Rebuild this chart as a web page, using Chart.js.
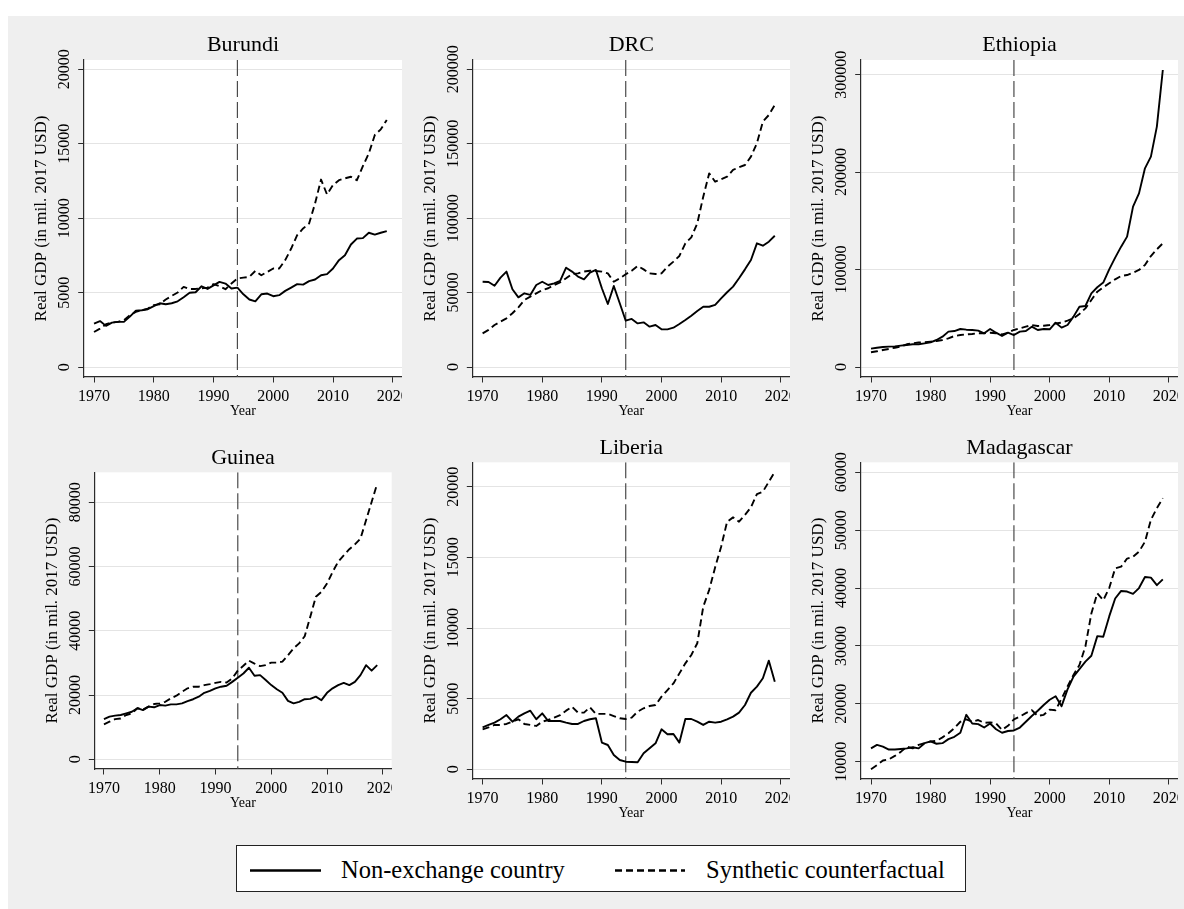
<!DOCTYPE html>
<html>
<head>
<meta charset="utf-8">
<script src="https://cdn.jsdelivr.net/npm/chart.js@4/dist/chart.umd.min.js"></script>
<style>
  html, body { margin: 0; padding: 0; background: #fff; width: 1184px; height: 909px; overflow: hidden; }
  #frame { position: absolute; left: 8px; top: 16px; width: 1176px; height: 893px; background: #efefef; }
  .panel { position: absolute; overflow: hidden; }
  .panel canvas { position: absolute; left: 0; top: 0; }
  #legend { position: absolute; left: 236px; top: 845px; width: 730px; height: 47px; box-sizing: border-box;
            border: 1px solid #222; background: #fff; font-family: 'Liberation Serif', 'Times New Roman', serif; }
  #legend .txt { position: absolute; top: 1px; line-height: 45px; font-size: 24.5px; color: #000; white-space: nowrap; }
  #legend svg { position: absolute; top: 0; }
</style>
</head>
<body>
<div id="frame"></div>
<div id="legend">
  <svg style="left:13px" width="72" height="45"><line x1="0" y1="24.5" x2="71" y2="24.5" stroke="#000" stroke-width="2.6"/></svg>
  <span class="txt" style="left:104px">Non-exchange country</span>
  <svg style="left:378px" width="72" height="45"><line x1="0" y1="24.5" x2="70" y2="24.5" stroke="#000" stroke-width="2.6" stroke-dasharray="7 4"/></svg>
  <span class="txt" style="left:469px">Synthetic counterfactual</span>
</div>
<script>
// Years shared by every panel
const years = [1970, 1971, 1972, 1973, 1974, 1975, 1976, 1977, 1978, 1979,
               1980, 1981, 1982, 1983, 1984, 1985, 1986, 1987, 1988, 1989,
               1990, 1991, 1992, 1993, 1994, 1995, 1996, 1997, 1998, 1999,
               2000, 2001, 2002, 2003, 2004, 2005, 2006, 2007, 2008, 2009,
               2010, 2011, 2012, 2013, 2014, 2015, 2016, 2017, 2018, 2019];
const xTickLabels = [1970, 1980, 1990, 2000, 2010, 2020];
const treatmentYear = 1994;
const seriesNames = ['Non-exchange country', 'Synthetic counterfactual'];

// Real GDP, million 2017 USD
const burundiActual = [2930, 3100, 2780, 3000, 3050, 3050, 3400, 3800, 3830, 3900,
                       4100, 4300, 4230, 4300, 4430, 4700, 5000, 5040, 5440, 5260,
                       5500, 5730, 5620, 5290, 5350, 4900, 4550, 4430, 4900, 4950,
                       4770, 4840, 5130, 5350, 5580, 5550, 5780, 5890, 6180, 6250,
                       6630, 7190, 7520, 8240, 8640, 8670, 9030, 8910, 9030, 9140];
const burundiSynthetic = [2370, 2600, 2890, 3000, 3050, 3160, 3490, 3720, 3830, 3940,
                          4170, 4230, 4550, 4790, 5020, 5400, 5260, 5260, 5300, 5350,
                          5580, 5440, 5240, 5620, 5960, 6020, 6070, 6470, 6180, 6400,
                          6630, 6630, 7190, 7970, 8870, 9320, 9650, 11000, 12600, 11600,
                          12230, 12560, 12680, 12790, 12560, 13500, 14360, 15590, 15970, 16600];

const drcActual = [57300, 57100, 54600, 60000, 64100, 52200, 46800, 49500, 48400, 55100,
                   57300, 55100, 56200, 57800, 66700, 64100, 60700, 58900, 63400, 65200,
                   52900, 42300, 54400, 42800, 31100, 32300, 29300, 30000, 27100, 28200,
                   25300, 25300, 26400, 28900, 31600, 34500, 37600, 40500, 40500, 41700,
                   46100, 50200, 54000, 59600, 65600, 71900, 83100, 81500, 84200, 88200];
const drcSynthetic = [22600, 24900, 28200, 30500, 32700, 36100, 40100, 45000, 47300, 49500,
                      51700, 52900, 55100, 56900, 59600, 62500, 62900, 64100, 64700, 64500,
                      64100, 62900, 57300, 59600, 62300, 64700, 67900, 65600, 62900, 62500,
                      62900, 67400, 70800, 74600, 83100, 87100, 96500, 114400, 130100, 124500,
                      126100, 127900, 132400, 134200, 135700, 141300, 150300, 164800, 169300, 176000];

const ethiopiaActual = [18800, 19800, 20500, 20900, 21200, 21900, 22600, 23300, 23300, 24300,
                        25300, 27700, 31100, 36300, 36900, 39000, 38300, 38000, 37300, 34600,
                        39000, 35200, 31800, 35200, 32800, 36300, 36900, 41400, 38000, 39000,
                        38700, 45500, 40400, 43100, 51700, 61900, 62600, 75600, 81800, 86600,
                        100200, 112200, 123500, 133800, 164600, 178200, 203900, 215900, 246700, 304800];
const ethiopiaSynthetic = [15100, 16100, 17400, 18500, 19800, 20900, 23300, 24300, 25300, 25300,
                           26000, 26700, 27700, 29400, 31800, 32800, 33500, 33900, 34600, 34600,
                           35200, 34600, 33500, 35200, 38000, 39700, 41400, 43100, 42100, 42400,
                           43100, 44800, 45500, 47600, 49900, 54400, 60200, 68800, 77300, 81800,
                           85900, 90000, 93400, 94400, 96800, 99600, 104700, 113900, 120800, 126900];

const guineaActual = [12500, 13300, 13600, 13800, 14300, 14800, 15900, 15300, 16400, 16200,
                      16900, 16700, 17100, 17100, 17400, 18100, 18700, 19500, 20700, 21300,
                      22100, 22600, 22900, 24100, 25400, 26700, 28500, 26000, 26200, 24700,
                      23100, 21800, 20700, 18200, 17400, 17900, 18700, 18800, 19500, 18400,
                      20700, 22100, 23100, 23800, 23100, 24100, 26200, 29300, 27600, 29300];
const guineaSynthetic = [10900, 11700, 12500, 12700, 13800, 14300, 15900, 15500, 16400, 17200,
                         17400, 17900, 19000, 19800, 21000, 22100, 22600, 22600, 23100, 23400,
                         23800, 24100, 23900, 25200, 27600, 29100, 30700, 29800, 29000, 29300,
                         30100, 30100, 30400, 32400, 34500, 36100, 38300, 44400, 50600, 52100,
                         54700, 58300, 61500, 63500, 65400, 66900, 68700, 74400, 80100, 85800];

const liberiaActual = [2970, 3140, 3300, 3540, 3840, 3370, 3730, 3960, 4150, 3540,
                       3960, 3420, 3420, 3420, 3300, 3210, 3210, 3420, 3540, 3610,
                       1890, 1720, 1010, 660, 540, 520, 500, 1130, 1490, 1840,
                       2830, 2480, 2500, 1890, 3560, 3560, 3370, 3140, 3370, 3300,
                       3370, 3540, 3730, 4010, 4550, 5420, 5850, 6440, 7690, 6200];
const liberiaSynthetic = [2830, 2970, 3140, 3140, 3210, 3370, 3540, 3210, 3140, 3070,
                          3370, 3490, 3660, 3840, 4150, 4430, 4010, 4010, 4390, 3920,
                          3920, 3920, 3770, 3610, 3560, 3660, 4080, 4320, 4480, 4550,
                          5140, 5610, 6080, 6790, 7500, 8090, 8920, 11500, 12700, 14300,
                          15750, 17520, 17830, 17520, 18000, 18540, 19480, 19650, 20350, 21060];

const madagascarActual = [12300, 12900, 12600, 12100, 12100, 12200, 12300, 12500, 12300, 13200,
                          13500, 13100, 13200, 13900, 14300, 15000, 18100, 16600, 16500, 15900,
                          16600, 15600, 15000, 15300, 15400, 15900, 16900, 17900, 18800, 19800,
                          20700, 21300, 19600, 22500, 24700, 26000, 27300, 28300, 31700, 31600,
                          35100, 38200, 39500, 39400, 39000, 40000, 41900, 41800, 40500, 41500];
const madagascarSynthetic = [8700, 9400, 10200, 10400, 11000, 11700, 12600, 12300, 12900, 13200,
                             13500, 13600, 14200, 14900, 15800, 16900, 17300, 16900, 17200, 16700,
                             16800, 16600, 15500, 16200, 17300, 17800, 18400, 18900, 17900, 18100,
                             19000, 18900, 20900, 23000, 25000, 26700, 29900, 35600, 39100, 37900,
                             40000, 43400, 43700, 45100, 45400, 46300, 48000, 51800, 53800, 55500];

// y-axis tick labels per panel
const burundiTicks = [0, 5000, 10000, 15000, 20000];
const drcTicks = [0, 50000, 100000, 150000, 200000];
const ethiopiaTicks = [0, 100000, 200000, 300000];
const guineaTicks = [0, 20000, 40000, 60000, 80000];
const liberiaTicks = [0, 5000, 10000, 15000, 20000];
const madagascarTicks = [10000, 20000, 30000, 40000, 50000, 60000];

const FONT = "'Liberation Serif', 'Times New Roman', serif";
const X_MIN = 1968.27, X_MAX = 2021.6;
const AXIS_W = 64, PAD_R = 24, AXIS_H = 52;
const INK = '#2b2b2b';

// Panel boxes (plot area in page pixels) and value ranges
const panels = [
  { name: 'Burundi',    actual: burundiActual,    synth: burundiSynthetic,    ticks: burundiTicks,
    L: 83.7,  T: 60,    R: 402.3,  B: 377, TC: 45.3,  yMin: -651,   yMax: 20624 },
  { name: 'DRC',        actual: drcActual,        synth: drcSynthetic,        ticks: drcTicks,
    L: 472.3, T: 60,    R: 790.3,  B: 377, TC: 45.3,  yMin: -6718,  yMax: 206248 },
  { name: 'Ethiopia',   actual: ethiopiaActual,   synth: ethiopiaSynthetic,   ticks: ethiopiaTicks,
    L: 860.7, T: 60,    R: 1178.3, B: 377, TC: 45.3,  yMin: -10262, yMax: 315055 },
  { name: 'Guinea',     actual: guineaActual,     synth: guineaSynthetic,     ticks: guineaTicks,
    L: 94.3,  T: 472.3, R: 391.7,  B: 769, TC: 458.3, yMin: -3019,  yMax: 89339 },
  { name: 'Liberia',    actual: liberiaActual,    synth: liberiaSynthetic,    ticks: liberiaTicks,
    L: 472.3, T: 462.3, R: 790.3,  B: 779, TC: 448.3, yMin: -686,   yMax: 21727 },
  { name: 'Madagascar', actual: madagascarActual, synth: madagascarSynthetic, ticks: madagascarTicks,
    L: 860.7, T: 462.3, R: 1178.3, B: 779, TC: 448.3, yMin: 7011,   yMax: 61728 }
];

// White plot region behind grid and lines
const plotBackground = {
  id: 'plotBackground',
  beforeDraw(chart) {
    const { ctx, chartArea: a } = chart;
    ctx.save();
    ctx.fillStyle = '#ffffff';
    ctx.fillRect(a.left, a.top, a.right - a.left, a.bottom - a.top);
    ctx.restore();
  }
};

const measureCtx = document.createElement('canvas').getContext('2d');
measureCtx.font = '16px ' + FONT;

function pairs(values) {
  return years.map((yr, i) => ({ x: yr, y: values[i] }));
}

function makePanel(p) {
  const cl = Math.floor(p.L) - AXIS_W;
  const ct = Math.floor(p.TC - 18);
  const cw = Math.ceil(p.R) + PAD_R - cl;
  const ch = Math.ceil(p.B) + AXIS_H - ct;

  const wrap = document.createElement('div');
  wrap.className = 'panel';
  wrap.style.left = cl + 'px';
  wrap.style.top = ct + 'px';
  wrap.style.width = (p.R - cl) + 'px';
  wrap.style.height = ch + 'px';
  const cv = document.createElement('canvas');
  cv.width = cw; cv.height = ch;
  cv.style.width = cw + 'px'; cv.style.height = ch + 'px';
  wrap.appendChild(cv);
  document.body.appendChild(wrap);

  const titleLH = 22 * 1.2;
  const titlePadTop = p.TC - ct - titleLH / 2;
  const titlePadBottom = p.T - ct - titlePadTop - titleLH;
  const xAxisH = ct + ch - p.B;
  const yearLH = 14 * 1.2;
  const yearPadBottom = (ct + ch) - yearLH / 2 - (p.B + 34.5);
  const yTitleLH = 17 * 1.2;
  const yTitlePadTop = AXIS_W - 42 - yTitleLH / 2;
  const widest = Math.max(...p.ticks.map(v => measureCtx.measureText(String(v)).width));
  const yTickPad = 13.5 - widest / 2;

  new Chart(cv, {
    type: 'line',
    data: {
      datasets: [
        { label: seriesNames[0], data: pairs(p.actual), borderColor: '#000', borderWidth: 1.9,
          pointRadius: 0, tension: 0, fill: false, borderJoinStyle: 'round' },
        { label: seriesNames[1], data: pairs(p.synth), borderColor: '#000', borderWidth: 1.9,
          borderDash: [7, 4], pointRadius: 0, tension: 0, fill: false, borderJoinStyle: 'round' },
        { label: 'Exchange year', data: [{ x: treatmentYear, y: p.yMax }, { x: treatmentYear, y: p.yMin }],
          borderColor: '#4a4a4a', borderWidth: 1.2, borderDash: [16, 5], pointRadius: 0, fill: false }
      ]
    },
    options: {
      responsive: false,
      animation: false,
      devicePixelRatio: 1,
      layout: { padding: { left: p.L - cl - AXIS_W, top: 0, right: cw - (p.R - cl), bottom: 0 } },
      plugins: {
        legend: { display: false },
        tooltip: { enabled: false },
        title: {
          display: true, text: p.name, color: '#000', fullSize: false,
          font: { family: FONT, size: 22, weight: 'normal' },
          padding: { top: titlePadTop, bottom: titlePadBottom }
        }
      },
      scales: {
        x: {
          type: 'linear', min: X_MIN, max: X_MAX,
          afterBuildTicks: s => { s.ticks = xTickLabels.map(v => ({ value: v })); },
          afterFit: s => { s.height = xAxisH; },
          grid: { drawOnChartArea: false, drawTicks: true, tickLength: 5.5, tickColor: INK, tickWidth: 1 },
          border: { display: true, color: INK, width: 1.2 },
          ticks: { autoSkip: false, minRotation: 0, maxRotation: 0, padding: 4.2, color: '#000',
                   font: { family: FONT, size: 16 }, callback: v => String(v) },
          title: { display: true, text: 'Year', color: '#000', font: { family: FONT, size: 14 },
                   padding: { top: 0, bottom: yearPadBottom } }
        },
        y: {
          type: 'linear', min: p.yMin, max: p.yMax,
          afterBuildTicks: s => { s.ticks = p.ticks.map(v => ({ value: v })); },
          afterFit: s => { s.width = AXIS_W; },
          grid: { drawOnChartArea: true, color: '#e4e4e4', lineWidth: 1, drawTicks: true,
                  tickLength: 5.5, tickColor: INK, tickWidth: 1 },
          border: { display: true, color: INK, width: 1.2 },
          ticks: { autoSkip: false, minRotation: 90, maxRotation: 90, crossAlign: 'center',
                   padding: yTickPad, color: '#000', font: { family: FONT, size: 16 },
                   callback: v => String(v) },
          title: { display: true, text: 'Real GDP (in mil. 2017 USD)', color: '#000',
                   font: { family: FONT, size: 17 }, padding: { top: yTitlePadTop, bottom: 0 } }
        }
      }
    },
    plugins: [plotBackground]
  });
}

panels.forEach(makePanel);
</script>
</body>
</html>
